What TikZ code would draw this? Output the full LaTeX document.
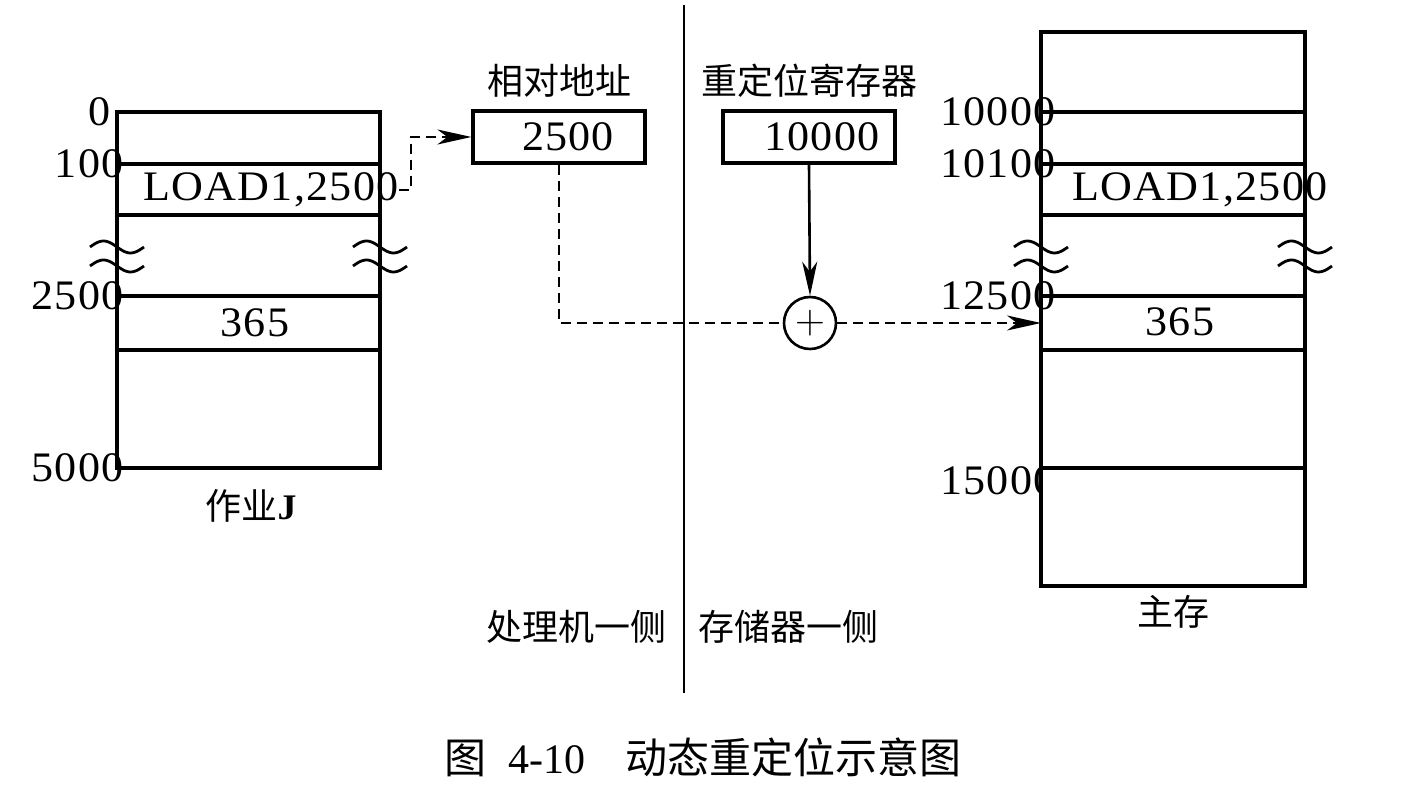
\documentclass[tikz,border=0pt]{standalone}
\usepackage{fontspec}
\setmainfont{Liberation Serif}[FakeStretch=1.05,LetterSpace=3]
\newfontfamily\capfont{Liberation Serif}
\newfontfamily\cjk{Noto Sans CJK SC}
\usetikzlibrary{arrows.meta,calc,positioning}

\tikzset{
  mem/.style={line width=1.8pt},
  lbl/.style={anchor=east,inner sep=0pt,font=\fontsize{21}{24}\selectfont},
  cell/.style={inner sep=0pt,font=\fontsize{21}{24}\selectfont},
  reg/.style={draw,line width=1.6pt,minimum width=86pt,minimum height=26pt,inner sep=0pt,font=\fontsize{21}{24}\selectfont},
  zh/.style={inner sep=0pt,font=\cjk\fontsize{18}{20}\selectfont},
  flow/.style={line width=1.1pt,dash pattern=on 5pt off 3pt},
}

\begin{document}
\begin{tikzpicture}[x=0.5pt,y=-0.5pt,>={Stealth[length=17pt,width=7.5pt,inset=5pt]}]
  \useasboundingbox (0,0) rectangle (1420,795);

  % job J (logical address space)
  \draw[mem] (117,112) rectangle (380,468);
  \foreach \ly in {164,215,296,350} {\draw[mem] (117,\ly) -- (380,\ly);}
  \node[lbl] (j0) at (111,112) {0};
  \foreach \ly/\lab in {164/100,296/2500,468/5000} {\node[lbl] (j\lab) at (124,\ly) {\lab};}
  \node[cell] (jload) at (271,190) {LOAD1,2500};
  \node[cell] (jval) at (255,323) {365};
  \node[zh] (jobname) at (251,506) {作业{\rmfamily\bfseries J}};

  % main memory
  \draw[mem] (1041,32) rectangle (1305,586);
  \foreach \ly in {112,164,215,296,350,468} {\draw[mem] (1041,\ly) -- (1305,\ly);}
  \foreach \ly/\lab in {112/10000,164/10100,296/12500} {\node[lbl] (m\lab) at (1056,\ly) {\lab};}
  \begin{scope}
    \clip (900,455) rectangle (1040,505);
    \node[lbl] (m15000) at (1056,481) {15000};
  \end{scope}
  \node[cell] (mload) at (1200,190) {LOAD1,2500};
  \node[cell] (mval) at (1180,322) {365};
  \node[zh] (mainname) at (1173,612) {主存};

  % breaks in both columns
  \foreach \wx in {117,380,1041,1305}
    \foreach \wy in {247,266}
      \draw[line width=1.4pt,domain=-1:1,samples=30,variable=\t] plot ({\wx+27*\t},{\wy+6*sin(180*\t)});

  % registers and adder
  \node[reg] (rel) at (559,137) {\hspace*{9pt}2500};
  \node[reg] (base) at (809,137) {\hspace*{13pt}10000};
  \node[zh,above=6pt of rel] (reltitle) {相对地址};
  \node[zh,above=6pt of base] (basetitle) {重定位寄存器};
  \node[circle,draw,line width=1.3pt,minimum size=26pt,inner sep=0pt,font=\fontsize{22}{22}\selectfont] (add) at (810,323) {$+$};
  \coordinate (hit) at (1041,323);

  \draw[flow,->] (jload.east) -- ++(12,0) |- (rel.west);
  \draw[flow] (rel.south) |- (add.west);
  \draw[line width=1.3pt,->] (base.south) -- (add.north);
  \draw[flow,->] (add.east) -- (hit);

  % processor side / memory side
  \coordinate (septop) at (684,5);
  \coordinate (sepbot) at (684,693);
  \draw[line width=1.2pt] (septop) -- (sepbot);
  \node[zh,anchor=east] (cpuside) at (667,627) {处理机一侧};
  \node[zh,anchor=west] (memside) at (698,627) {存储器一侧};

  \node[inner sep=0pt,font=\fontsize{21}{24}\selectfont] (caption) at (703,757)
    {{\cjk 图}\hspace{11pt}{\capfont 4-10}\hspace{20pt}{\cjk 动态重定位示意图}};
\end{tikzpicture}
\end{document}
